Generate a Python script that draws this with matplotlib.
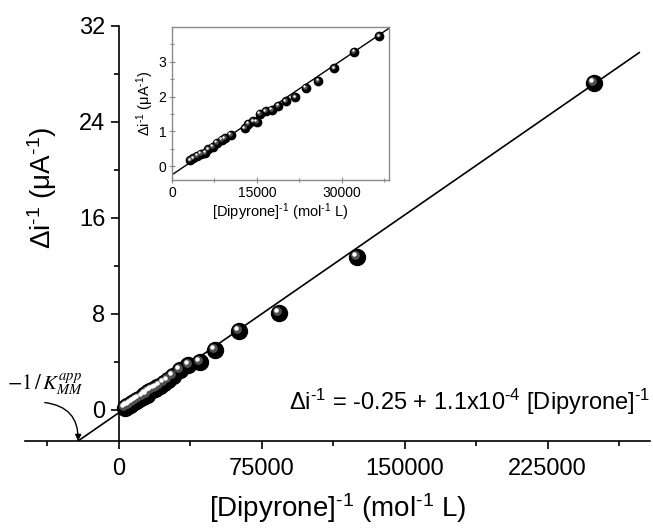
import matplotlib
matplotlib.use("Agg")
import matplotlib.pyplot as plt
import matplotlib.transforms as mtransforms
import numpy as np

plt.rcParams["font.family"] = ["Liberation Sans", "DejaVu Sans"]
plt.rcParams["mathtext.fontset"] = "custom"
plt.rcParams["mathtext.rm"] = "Liberation Sans"
plt.rcParams["mathtext.it"] = "Liberation Sans:italic"
plt.rcParams["mathtext.bf"] = "Liberation Sans:bold"

# inset data (low concentration region)
x_low = [3180, 3760, 4470, 5060, 5830, 6410, 7180, 7880, 8770, 9300,
         10410, 12880, 13470, 14350, 14940, 15530, 16590, 17590, 18770,
         20120, 21710, 23590, 25830, 28600, 32130, 36540]
y_low = [0.17, 0.22, 0.29, 0.35, 0.38, 0.48, 0.55, 0.67, 0.76, 0.80,
         0.90, 1.09, 1.21, 1.29, 1.27, 1.50, 1.57, 1.62, 1.74,
         1.86, 1.98, 2.25, 2.45, 2.82, 3.29, 3.74]
# extra points only seen in the main plot
x_high = [42500, 50300, 62900, 83900, 124800, 249100]
y_high = [4.0, 5.0, 6.6, 8.1, 12.75, 27.25]

intercept = -0.25
slope = 1.1e-4

SUP = r"$^{\text{-1}}$"
XLAB = "[Dipyrone]" + SUP + " (mol" + SUP + " L)"
YLAB = "\u0394i" + SUP + " (\u03bcA" + SUP + ")"


def sphere(ax, x, y, ms):
    ax.plot(x, y, "o", ms=ms, color="black", mec="black", zorder=3)
    ax.plot(x, y, "o", ms=ms * 0.55, color="#505050", mec="none", zorder=4,
            transform=mtransforms.offset_copy(ax.transData, fig=fig, x=-ms * 0.12, y=ms * 0.12, units="points"))
    ax.plot(x, y, "o", ms=ms * 0.28, color="white", mec="none", zorder=5,
            transform=mtransforms.offset_copy(ax.transData, fig=fig, x=-ms * 0.18, y=ms * 0.18, units="points"))


fig = plt.figure(figsize=(6.53, 5.30), dpi=100)

# main axes
ax = fig.add_axes([0.038, 0.168, 0.957, 0.783])
xall = x_low + x_high
yall = y_low + y_high
xmin, xmax = -49300, 278500
ymin, ymax = -2.6, 32
x0 = (ymin - intercept) / slope
xl = np.array([x0, 273000])
ax.plot(xl, intercept + slope * xl, color="black", lw=1.2, zorder=2)
sphere(ax, xall, yall, 11.5)

ax.set_xlim(xmin, xmax)
ax.set_ylim(ymin, ymax)
for s in ["top", "right"]:
    ax.spines[s].set_visible(False)
ax.spines["left"].set_position(("data", 0))
ax.spines["left"].set_bounds(ymin, ymax)
ax.spines["left"].set_linewidth(1.2)
ax.spines["bottom"].set_linewidth(1.2)
ax.set_xticks([0, 75000, 150000, 225000])
ax.set_xticks([-37500, 37500, 112500, 187500, 262500], minor=True)
ax.set_yticks([0, 8, 16, 24, 32])
ax.set_yticks([4, 12, 20, 28], minor=True)
ax.tick_params(axis="both", which="major", labelsize=17, length=6, width=1.2, direction="out")
ax.tick_params(axis="both", which="minor", length=3.5, width=1.2, direction="out")
ax.tick_params(axis="x", pad=6)
ax.set_xlabel(XLAB, fontsize=20, labelpad=8)
fig.text(0.065, 0.645, YLAB, fontsize=20, rotation=90, ha="center", va="center")

ax.text(1.0, 0.095, "\u0394i" + SUP + " = -0.25 + 1.1x10" + r"$^{\text{-4}}$" + " [Dipyrone]" + SUP,
        transform=ax.transAxes, fontsize=17, ha="right", va="center")

# -1/K label with curved arrow to the x-intercept
ax.text(-58500, 2.1, r"$-1\,/\,K_{MM}^{app}$", fontsize=15, ha="left", va="center",
        math_fontfamily="stix")
ax.annotate("", xy=(x0, ymin), xytext=(-38800, 0.6),
            arrowprops=dict(arrowstyle="-|>", color="black", lw=1.0,
                            connectionstyle="arc3,rad=-0.45", mutation_scale=9,
                            shrinkA=0, shrinkB=0))

# inset
axi = fig.add_axes([0.2634, 0.6604, 0.3323, 0.2887])
xi = np.array([0, 38300])
axi.plot(xi, intercept + slope * xi, color="black", lw=1.0, zorder=2)
sphere(axi, x_low, y_low, 6)
axi.set_xlim(0, 38300)
axi.set_ylim(-0.4, 4.0)
axi.set_xticks([0, 15000, 30000])
axi.set_xticks([7500, 22500, 37500], minor=True)
axi.set_yticks([0, 1, 2, 3])
axi.set_yticks([0.5, 1.5, 2.5, 3.5], minor=True)
for s in axi.spines.values():
    s.set_color("#8a8a8a")
    s.set_linewidth(1.0)
axi.tick_params(axis="both", which="major", labelsize=10, length=4, width=0.8,
                direction="inout", color="#8a8a8a", pad=2)
axi.tick_params(axis="both", which="minor", length=2.5, width=0.8,
                direction="inout", color="#8a8a8a")
axi.set_xlabel(XLAB, fontsize=10.5, labelpad=1)
axi.set_ylabel(YLAB, fontsize=10.5, labelpad=2)

fig.savefig("out.png", dpi=100)
